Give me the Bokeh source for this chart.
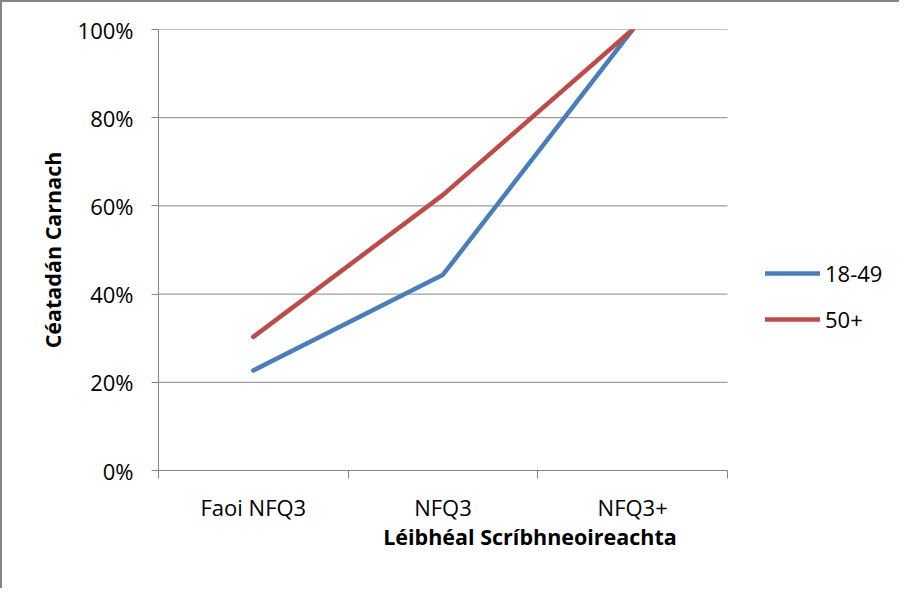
from bokeh.plotting import figure
from bokeh.models import (FixedTicker, NumeralTickFormatter, Range1d, Legend, LegendItem,
                          ColumnDataSource)
from bokeh.embed import file_html
from bokeh.resources import INLINE

categories = ["Faoi NFQ3", "NFQ3", "NFQ3+"]
series_names = ["18-49", "50+"]
values_18_49 = [0.227, 0.444, 1.0]
values_50_plus = [0.303, 0.625, 1.0]
colors = ["#4A7EBB", "#BE4B48"]
y_ticks = [0, 0.2, 0.4, 0.6, 0.8, 1.0]

FONT = "Open Sans"
GRAY = "#868686"

# layout (pixels)
FIG_W, FIG_H = 899, 588
BORDER_L, BORDER_T, BORDER_B = 156, 27, 120
PLOT_W = 569                          # width of the category area
FRAME_W = FIG_W - BORDER_L            # frame extends under the legend
n = len(categories)
x_end = n * FRAME_W / PLOT_W
x_pos = [i + 0.5 for i in range(n)]

p = figure(width=FIG_W, height=FIG_H, output_backend="svg", toolbar_location=None,
           x_range=Range1d(0, x_end), y_range=Range1d(0, 1),
           min_border_left=BORDER_L, min_border_right=0, min_border_top=BORDER_T,
           min_border_bottom=BORDER_B)
p.styles = {"border-left": "2px solid " + GRAY, "border-top": "2px solid " + GRAY}
p.outline_line_color = None
p.background_fill_color = "white"
p.border_fill_color = "white"

# horizontal gridlines limited to the category area
p.xgrid.grid_line_color = None
p.ygrid.grid_line_color = None
p.segment(x0=[0] * len(y_ticks), x1=[n] * len(y_ticks), y0=y_ticks, y1=y_ticks,
          line_color=GRAY, line_width=1)

renderers = []
for name, vals, col in zip(series_names, [values_18_49, values_50_plus], colors):
    src = ColumnDataSource(dict(x=x_pos, y=vals))
    r = p.line("x", "y", source=src, line_color=col, line_width=4.5, line_cap="round",
               line_join="round")
    renderers.append((name, r))

# x axis: labels at category centres, tick marks at boundaries (minor ticks)
xa = p.xaxis[0]
xa.bounds = (0, n)
xa.ticker = FixedTicker(ticks=x_pos, minor_ticks=list(range(n + 1)))
xa.major_label_overrides = {x: c for x, c in zip(x_pos, categories)}
xa.major_tick_line_color = None
xa.minor_tick_out = 8
xa.minor_tick_in = 0
xa.minor_tick_line_color = GRAY
xa.axis_line_color = GRAY
xa.major_label_text_font = FONT
xa.major_label_text_font_size = "22px"
xa.major_label_text_color = "black"
xa.major_label_standoff = 13
xa.axis_label = "Léibhéal Scríbhneoireachta"
xa.axis_label_text_font = FONT
xa.axis_label_text_font_style = "bold"
xa.axis_label_text_font_size = "21.5px"
xa.axis_label_text_color = "black"
xa.axis_label_standoff = -3

ya = p.yaxis[0]
ya.ticker = FixedTicker(ticks=y_ticks)
ya.formatter = NumeralTickFormatter(format="0%")
ya.minor_tick_line_color = None
ya.major_tick_out = 7
ya.major_tick_in = 0
ya.major_tick_line_color = GRAY
ya.axis_line_color = GRAY
ya.major_label_text_font = FONT
ya.major_label_text_font_size = "22px"
ya.major_label_text_color = "black"
ya.major_label_standoff = 18
ya.axis_label = "Céatadán Carnach"
ya.axis_label_text_font = FONT
ya.axis_label_text_font_style = "bold"
ya.axis_label_text_font_size = "21.5px"
ya.axis_label_text_color = "black"
ya.axis_label_standoff = 8

legend = Legend(items=[LegendItem(label=nm, renderers=[r]) for nm, r in renderers],
                location=(PLOT_W + 38, 136), glyph_width=55, glyph_height=20, spacing=16,
                label_standoff=5, padding=0, margin=0,
                border_line_color=None, background_fill_alpha=0,
                label_text_font=FONT, label_text_font_size="22px",
                label_text_color="black")
p.add_layout(legend, "center")

open("out.html", "w").write(file_html(p, INLINE))
